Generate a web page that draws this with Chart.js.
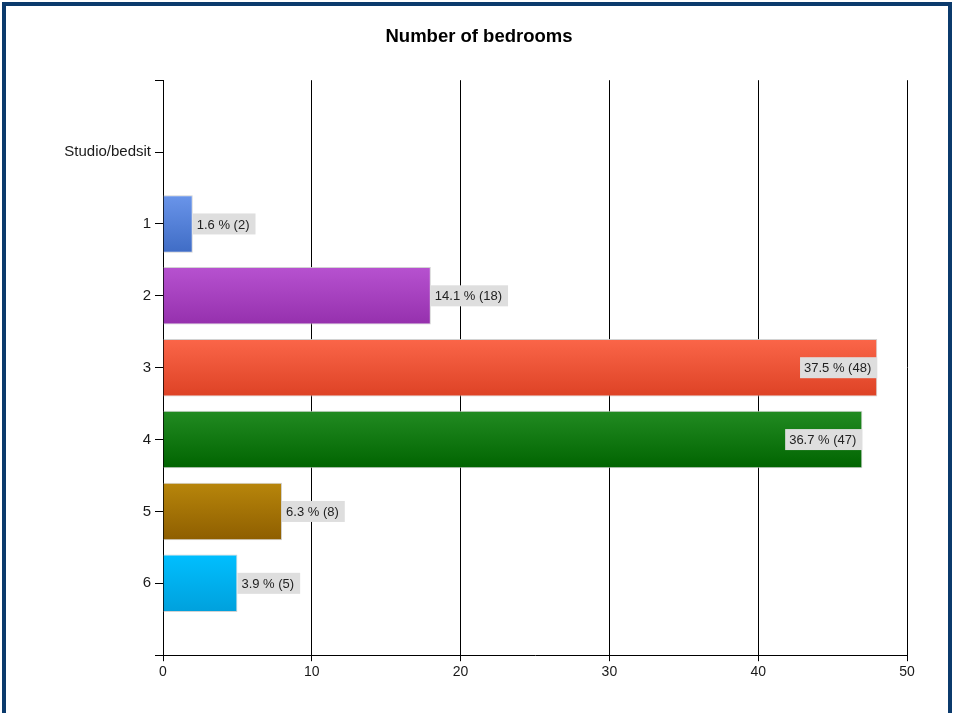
<!DOCTYPE html>
<html>
<head>
<meta charset="utf-8">
<script src="https://cdn.jsdelivr.net/npm/chart.js@4"></script>
<style>
    html, body { margin: 0; padding: 0; background: #fff; overflow: hidden; }
    .frame {
        position: absolute; left: 2px; top: 2px;
        width: 942px; height: 740px;
        border: 4px solid #0b3a6c; border-bottom: none;
    }
    .wrap { position: absolute; left: 0; top: 0; width: 953px; height: 713px; }
</style>
</head>
<body>
<div class="frame"></div>
<div class="wrap"><canvas id="bedroomsChart"></canvas></div>
<script>
    // Number of bedrooms
    const categories = ['Studio/bedsit', '1', '2', '3', '4', '5', '6'];
    const counts = [0, 2, 18, 48, 47, 8, 5];
    const percents = [0, 1.6, 14.1, 37.5, 36.7, 6.3, 3.9];
    const xTicks = [0, 10, 20, 30, 40, 50];

    // bar gradient colours (top -> bottom)
    const topColors = ['#6a95ea', '#6a95ea', '#b752d0', '#fb6649', '#228b22', '#b8860b', '#00bfff'];
    const bottomColors = ['#3f6cc5', '#3f6cc5', '#9530ad', '#dd4225', '#006400', '#8e5e00', '#00a0dc'];

    const FONT = '"Liberation Sans", Arial, sans-serif';

    // blank slot above and below, like the original
    const labels = [''].concat(categories, ['']);
    const data = [null].concat(counts, [null]);

    function barFill(context) {
        const i = context.dataIndex - 1;
        const chart = context.chart;
        const y = chart.scales.y;
        if (i < 0 || i >= categories.length) return 'transparent';
        if (!y || !chart.chartArea) return topColors[i];
        const cy = y.getPixelForValue(context.dataIndex);
        const g = chart.ctx.createLinearGradient(0, cy - 29, 0, cy + 29);
        g.addColorStop(0, topColors[i]);
        g.addColorStop(1, bottomColors[i]);
        return g;
    }

    const barLabels = {
        id: 'barLabels',
        afterDatasetsDraw(chart) {
            const ctx = chart.ctx;
            const area = chart.chartArea;
            const meta = chart.getDatasetMeta(0);
            ctx.save();
            ctx.font = '13px ' + FONT;
            ctx.textBaseline = 'middle';
            meta.data.forEach((bar, idx) => {
                const i = idx - 1;
                if (i < 0 || i >= counts.length || !counts[i]) return;
                const text = percents[i].toFixed(1) + ' % (' + counts[i] + ')';
                const w = ctx.measureText(text).width + 10;
                const h = 21;
                let x = bar.x;
                if (x + w > area.right) x = bar.x - w;
                ctx.fillStyle = '#dedede';
                ctx.fillRect(x, bar.y - h / 2, w, h);
                ctx.fillStyle = '#222';
                ctx.fillText(text, x + 4, bar.y + 1);
            });
            ctx.restore();
        }
    };

    const chartCtx = document.getElementById('bedroomsChart').getContext('2d');
    new Chart(chartCtx, {
        type: 'bar',
        data: {
            labels: labels,
            datasets: [{
                data: data,
                backgroundColor: barFill,
                borderColor: 'rgba(205, 205, 205, 0.9)',
                borderWidth: (c) => (c.raw ? 1 : 0),
                barPercentage: 0.8,
                categoryPercentage: 1.0
            }]
        },
        options: {
            indexAxis: 'y',
            responsive: true,
            maintainAspectRatio: false,
            animation: false,
            layout: {
                padding: { left: 51, right: 46, top: 0, bottom: 29 }
            },
            plugins: {
                legend: { display: false },
                tooltip: { enabled: false },
                title: {
                    display: true,
                    text: 'Number of bedrooms',
                    color: '#000',
                    font: { family: FONT, size: 18.5, weight: 'bold' },
                    padding: { top: 26, bottom: 32 }
                }
            },
            scales: {
                x: {
                    min: 0,
                    max: 50,
                    afterBuildTicks: (scale) => {
                        scale.ticks = xTicks.map(v => ({ value: v }));
                    },
                    grid: {
                        color: '#000',
                        lineWidth: 1,
                        drawTicks: true,
                        tickLength: 6,
                        tickColor: '#000'
                    },
                    border: { display: true, color: '#000' },
                    ticks: {
                        color: '#1a1a1a',
                        padding: 3,
                        font: { family: FONT, size: 14 }
                    }
                },
                y: {
                    offset: false,
                    afterFit: (scale) => { scale.width = 112; },
                    grid: {
                        offset: false,
                        drawOnChartArea: false,
                        drawTicks: true,
                        tickLength: 8,
                        color: '#000'
                    },
                    border: { display: true, color: '#000' },
                    ticks: {
                        color: '#1a1a1a',
                        padding: 4,
                        autoSkip: false,
                        font: { family: FONT, size: 15 }
                    }
                }
            }
        },
        plugins: [barLabels]
    });
</script>
</body>
</html>
